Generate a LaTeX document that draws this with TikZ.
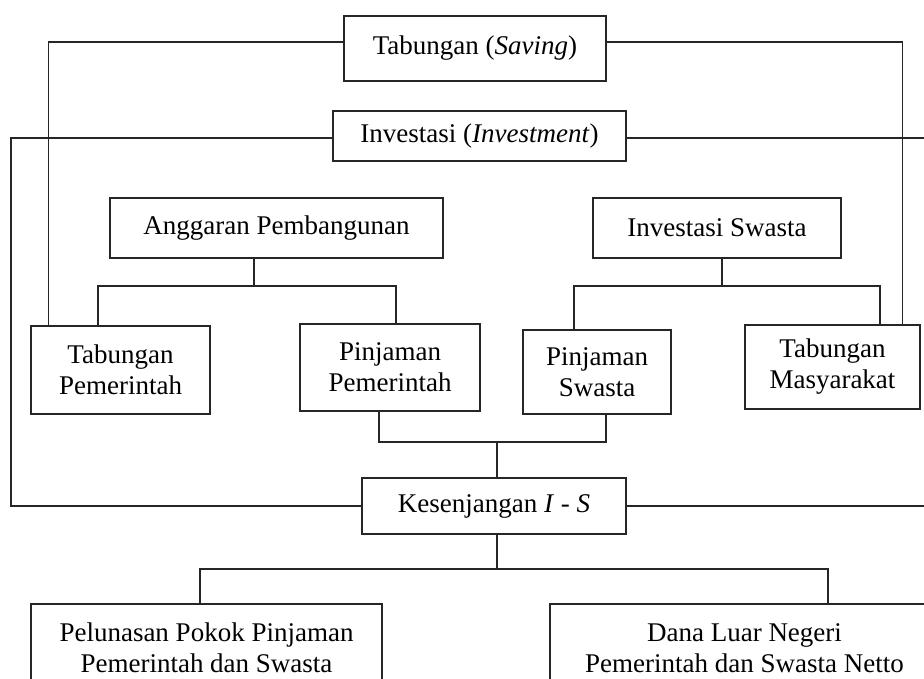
\documentclass[tikz,border=0pt]{standalone}
\usepackage{fontspec}
\setmainfont{Liberation Serif}
\begin{document}
\begin{tikzpicture}[x=1pt,y=-1pt,
  box/.style={draw=black!85, line width=1.2pt, inner sep=0pt, align=center, text=black,
              font=\fontsize{27}{31}\selectfont},
  conn/.style={draw=black!85, line width=1.2pt}]
\useasboundingbox (0,0) rectangle (924,678);
\clip (0,0) rectangle (924,678);
% boxes
\node[box, minimum width=262pt, minimum height=65pt] (sav) at (475,48.5) {Tabungan (\textit{Saving})};
\node[box, minimum width=293pt, minimum height=50pt] (inv) at (479.5,136) {Investasi (\textit{Investment})};
\node[box, minimum width=333pt, minimum height=60pt] (ang) at (276.5,228) {Anggaran Pembangunan};
\node[box, minimum width=248pt, minimum height=60pt] (isw) at (717,228) {Investasi Swasta};
\node[box, minimum width=179pt, minimum height=88pt] (tpem) at (120.5,370) {Tabungan\\Pemerintah};
\node[box, minimum width=180pt, minimum height=87pt] (ppem) at (390,367.5) {Pinjaman\\Pemerintah};
\node[box, minimum width=148pt, minimum height=84pt] (psw) at (597,372) {Pinjaman\\Swasta};
\node[box, minimum width=175pt, minimum height=84pt] (tmas) at (832.5,367) {Tabungan\\Masyarakat};
\node[box, minimum width=264pt, minimum height=56pt] (kes) at (494,506) {Kesenjangan \textit{I} - \textit{S}};
\node[box, minimum width=351pt, minimum height=88pt] (pel) at (206.5,648) {Pelunasan Pokok Pinjaman\\Pemerintah dan Swasta};
\node[box, minimum width=389pt, minimum height=88pt] (dana) at (744.5,648) {Dana Luar Negeri\\Pemerintah dan Swasta Netto};
% saving rails
\draw[conn] ([yshift=6.5pt]sav.west) -| ([xshift=18pt]tpem.north west);
\draw[conn] ([yshift=6.5pt]sav.east) -| ([xshift=-18pt]tmas.north east);
% investment rails
\coordinate (lrail) at (11,138);
\coordinate (rrail) at (930,138);
\coordinate (rrailb) at (930,506);
\draw[conn] ([yshift=-2pt]inv.west) -- (lrail) |- (kes.west);
\draw[conn] ([yshift=-2pt]inv.east) -- (rrail);
\draw[conn] (kes.east) -- (rrailb);
% anggaran pembangunan
\coordinate (aj) at (254,286);
\draw[conn] ([xshift=-22.5pt]ang.south) -- (aj);
\draw[conn] ([xshift=-22.5pt]tpem.north) |- (aj) -| ([xshift=6pt]ppem.north);
% investasi swasta
\coordinate (ij) at (722,286);
\draw[conn] ([xshift=5pt]isw.south) -- (ij);
\draw[conn] ([xshift=-23pt]psw.north) |- (ij) -| ([xshift=47.5pt]tmas.north);
% loans to gap
\coordinate (lj) at (497,442);
\draw[conn] ([xshift=-11pt]ppem.south) |- (lj) -| ([xshift=9pt]psw.south);
\draw[conn] (lj) -- ([xshift=3pt]kes.north);
% gap to bottom
\coordinate (kj) at (497,569);
\draw[conn] ([xshift=3pt]kes.south) -- (kj);
\draw[conn] ([xshift=-6.5pt]pel.north) |- (kj) -| ([xshift=83.5pt]dana.north);
\end{tikzpicture}
\end{document}
